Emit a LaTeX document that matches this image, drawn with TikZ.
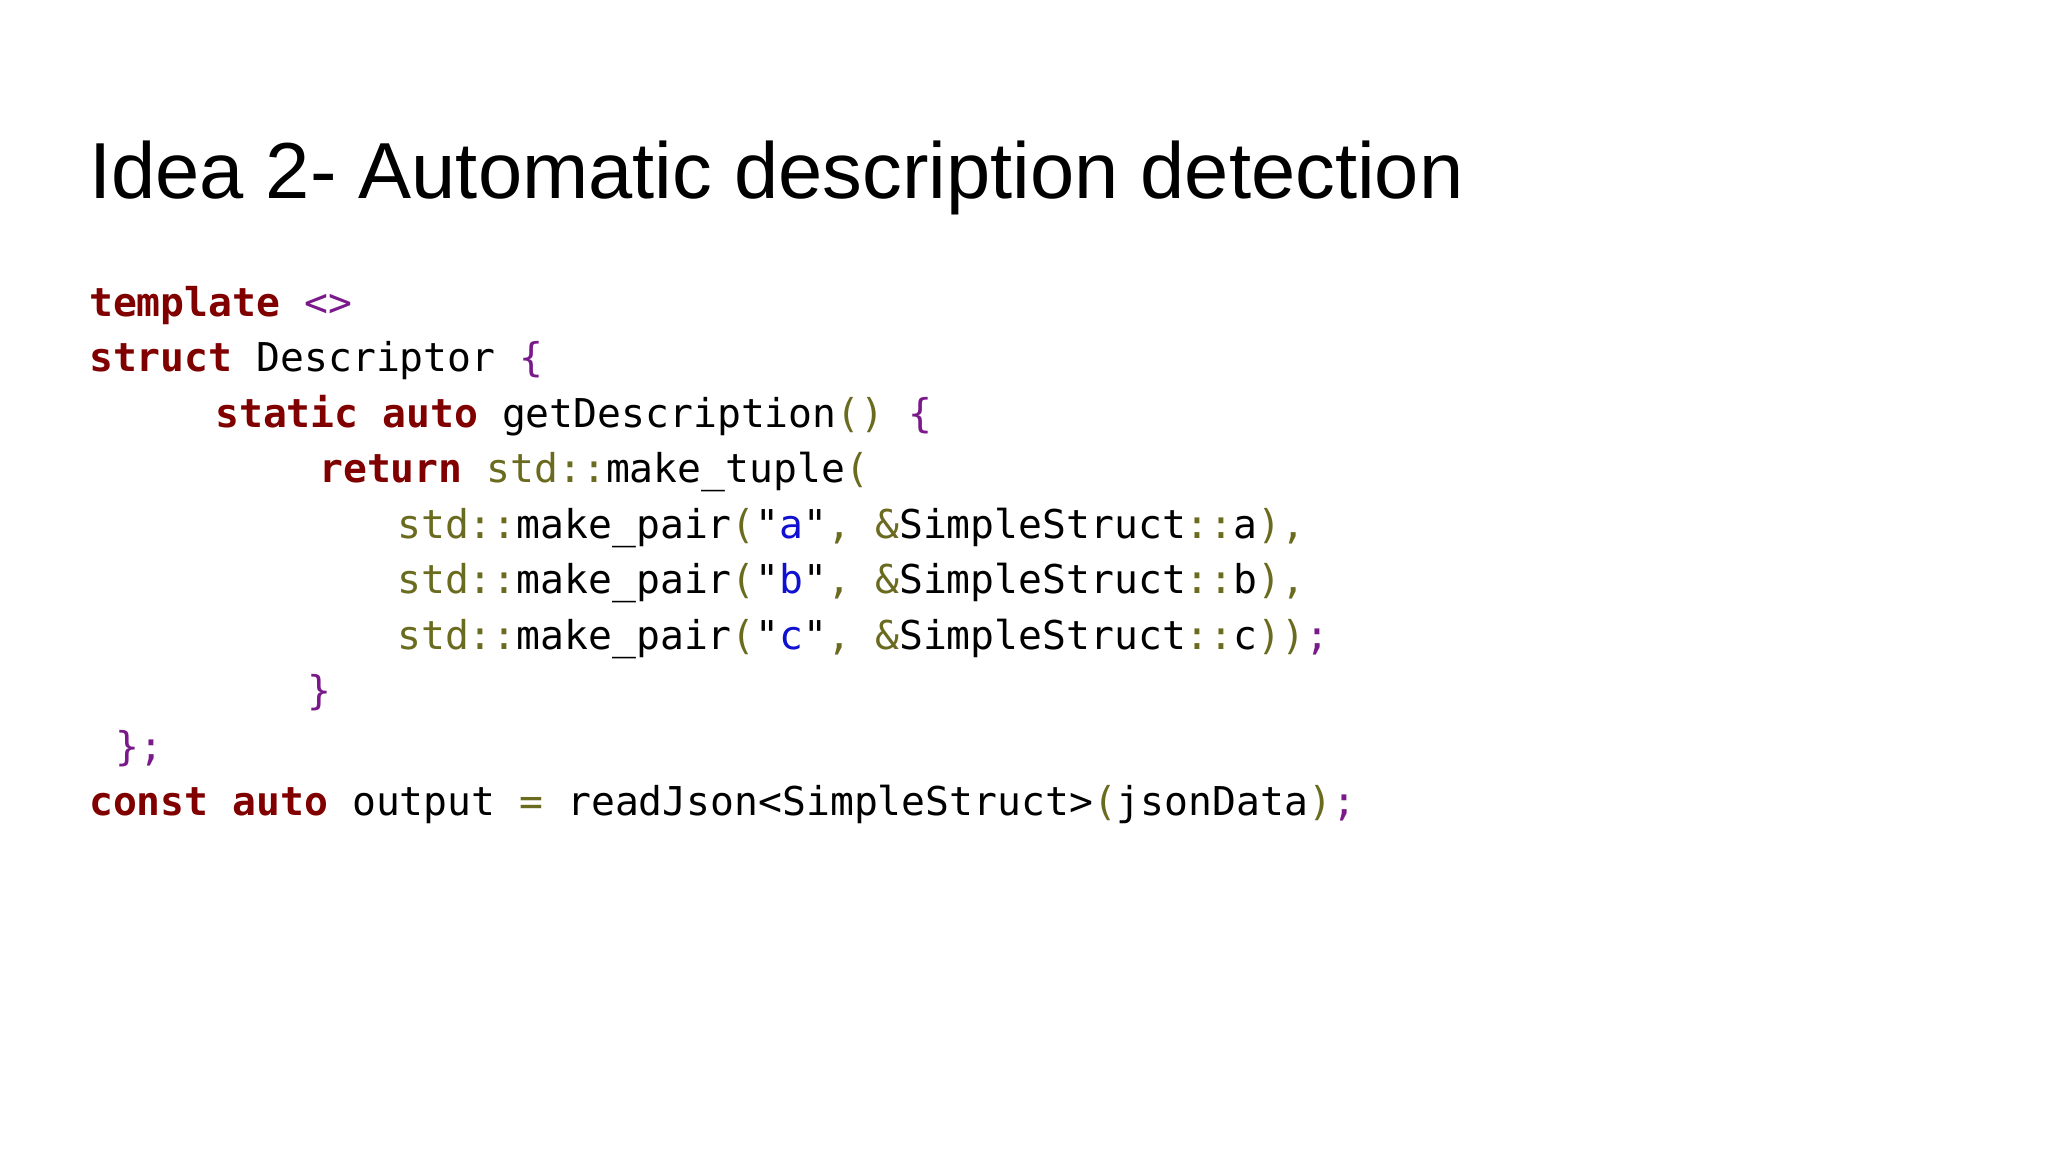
\documentclass[tikz,border=0pt]{standalone}
\usepackage{fontspec}
\setmainfont{Liberation Sans}
\newfontfamily\codefont{DejaVu Sans Mono}
\definecolor{kwc}{HTML}{800000}
\definecolor{olc}{HTML}{6B6B1F}
\definecolor{puc}{HTML}{7A1A8A}
\definecolor{blc}{HTML}{1010D0}
\newcommand{\kw}[1]{\textcolor{kwc}{\bfseries #1}}
\newcommand{\ol}[1]{\textcolor{olc}{#1}}
\newcommand{\pu}[1]{\textcolor{puc}{#1}}
\newcommand{\bl}[1]{\textcolor{blc}{#1}}
\begin{document}
\begin{tikzpicture}[x=1pt,y=-1pt,
  code/.style={anchor=base west,inner sep=0pt,font=\codefont\fontsize{39.7pt}{39.7pt}\selectfont,text=black}]
\useasboundingbox[fill=white] (0,0) rectangle (2048,1152);
\node[anchor=base west,inner sep=0pt,font=\fontsize{79.5pt}{79.5pt}\selectfont] (title) at (89,198) {Idea 2- Automatic description detection};
\node[code] (l1) at (89,316) {\kw{template} \pu{<>}};
\node[code] (l2) at (89,371) {\kw{struct} Descriptor \pu{\{}};
\node[code] (l3) at (215,427) {\kw{static} \kw{auto} getDescription\ol{()} \pu{\{}};
\node[code] (l4) at (319,482) {\kw{return} \ol{std::}make\_tuple\ol{(}};
\node[code] (l5) at (397,538) {\ol{std::}make\_pair\ol{(}"\bl{a}"\ol{,} \ol{\&}SimpleStruct\ol{::}a\ol{),}};
\node[code] (l6) at (397,593) {\ol{std::}make\_pair\ol{(}"\bl{b}"\ol{,} \ol{\&}SimpleStruct\ol{::}b\ol{),}};
\node[code] (l7) at (397,649) {\ol{std::}make\_pair\ol{(}"\bl{c}"\ol{,} \ol{\&}SimpleStruct\ol{::}c\ol{))}\pu{;}};
\node[code] (l8) at (307,704) {\pu{\}}};
\node[code] (l9) at (115,760) {\pu{\};}};
\node[code] (l10) at (89,815) {\kw{const} \kw{auto} output \ol{=} readJson<SimpleStruct>\ol{(}jsonData\ol{)}\pu{;}};
\end{tikzpicture}
\end{document}
